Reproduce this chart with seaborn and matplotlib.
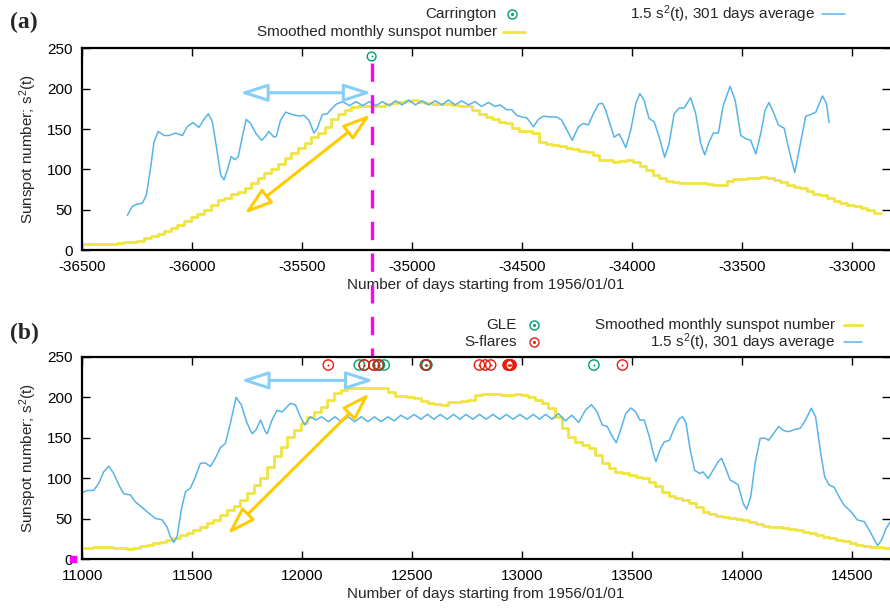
import numpy as np
import pandas as pd
import matplotlib
matplotlib.use('Agg')
import matplotlib.pyplot as plt
import seaborn as sns
from matplotlib.lines import Line2D

# ── DATOS ────────────────────────────────────────────────────────────────────
# (a) Ciclo 10: media de 301 días de 1.5 s^2(t)
s2_a_dia = [-36295, -36273, -36250, -36227, -36209, -36189, -36174, -36155, -36129, -36106,
            -36076, -36045, -36023, -35997, -35970, -35947, -35927, -35909, -35886, -35871,
            -35856, -35841, -35823, -35806, -35791, -35773, -35755, -35735, -35712, -35686,
            -35670, -35652, -35629, -35618, -35599, -35576, -35546, -35515, -35493, -35470,
            -35447, -35432, -35409, -35386, -35364,
            -35345, -35316, -35286, -35256, -35226, -35196, -35166, -35136, -35106, -35076,
            -35046, -35016, -34986, -34956, -34926, -34896, -34866, -34836, -34806, -34776,
            -34745, -34715, -34685, -34654, -34624, -34601, -34571, -34548,
            -34526, -34503, -34480, -34450, -34427, -34404, -34374, -34344, -34321, -34298,
            -34273, -34245, -34223, -34200, -34177, -34154, -34136, -34121, -34098, -34083,
            -34060, -34045, -34030, -34007, -33984, -33966, -33947, -33924, -33901, -33878,
            -33853, -33833, -33810, -33788, -33765, -33735, -33712, -33689, -33671, -33651,
            -33632, -33609, -33588, -33556, -33533, -33507, -33485, -33462, -33439, -33416,
            -33397, -33379, -33356, -33336, -33310, -33288, -33262, -33242, -33212, -33189,
            -33166, -33136, -33118, -33106]
s2_a_val = [43, 54, 57, 58, 68, 103, 134, 147, 142, 142,
            145, 142, 153, 158, 152, 162, 169, 159, 120, 93,
            87, 99, 116, 112, 116, 140, 162, 157, 145, 136,
            140, 147, 140, 141, 161, 171, 168, 166, 167, 161,
            145, 151, 168, 169, 176,
            181, 184, 179, 184, 179, 184, 179, 184, 179, 185,
            180, 186, 180, 185, 180, 185, 180, 186, 180, 185,
            180, 184, 178, 183, 178, 180, 174, 174,
            167, 165, 164, 153, 162, 166, 165, 165, 161, 149,
            136, 153, 157, 155, 169, 181, 182, 173, 153, 140,
            144, 136, 127, 149, 182, 194, 186, 163, 159, 140,
            115, 132, 169, 176, 176, 189, 169, 132, 118, 134,
            145, 145, 178, 203, 186, 142, 138, 136, 119, 145,
            173, 183, 169, 155, 151, 124, 96, 124, 166, 168,
            171, 191, 182, 158]

# (a) Número de manchas suavizado mensual, desde 1856-01
ssn_a = [7, 7, 7, 7, 7, 8, 8.5, 9.5, 10, 11, 14.5, 17, 20, 23, 27, 31, 36, 41, 45, 50,
         56, 62, 65, 69, 72, 77, 83, 89, 96, 101, 107, 114, 120, 127, 133, 140, 145, 153, 162, 169,
         174, 177, 178, 178, 179, 179, 181, 182, 184, 185, 186, 184, 182, 181, 180.5, 180.5, 180, 179, 178, 173,
         169, 165, 162, 159, 157, 151, 147, 147, 145, 134, 131, 130, 129, 127, 125, 123, 121, 118, 112, 111.5,
         109, 110, 111, 109, 104, 99, 93, 89, 85.5, 84, 83, 83.5, 83, 82.6, 82, 81, 81, 85, 87.5, 88,
         89, 89, 90, 89, 87, 84, 81, 78.5, 76.5, 73, 69, 68, 65, 61, 58, 56, 54, 52, 49, 46, 45.5]

# (b) Ciclo 22: media de 301 días de 1.5 s^2(t)
s2_b_dia = [10999, 11022, 11052, 11075, 11097, 11120, 11143, 11166, 11188, 11219,
            11241, 11272, 11302, 11332, 11363, 11385, 11400, 11416, 11431, 11450,
            11469, 11491, 11514, 11537, 11560, 11582, 11605, 11628, 11650, 11673,
            11699, 11723, 11749, 11772, 11790, 11810, 11832, 11840, 11862, 11885,
            11908, 11946, 11969, 11991, 12011, 12037,
            12060, 12088, 12118, 12148, 12178, 12208, 12238, 12268, 12298, 12328,
            12358, 12388, 12418, 12448, 12478, 12508, 12539, 12569, 12598, 12627,
            12658, 12688, 12716, 12744, 12775, 12805, 12836, 12866, 12897, 12928,
            12958, 12989, 13020, 13050, 13078, 13106, 13135, 13164, 13195, 13225,
            13256, 13286, 13314, 13340, 13363, 13386, 13409, 13427, 13447, 13470,
            13493, 13515, 13534, 13554, 13577, 13595, 13607, 13625, 13645, 13668,
            13691, 13714, 13729, 13744, 13763, 13783, 13806, 13821, 13844, 13867,
            13890, 13905, 13921, 13944, 13966, 13981, 14004, 14019, 14038, 14058,
            14081, 14104, 14119, 14142, 14165, 14188, 14211, 14234, 14264, 14287,
            14313, 14333, 14356, 14374, 14394, 14417, 14440, 14462, 14493, 14523,
            14554, 14577, 14600, 14615, 14633, 14653, 14676, 14691]
s2_b_val = [82, 85, 85, 94, 108, 115, 106, 92, 81, 79.5,
            71, 64, 57, 50.6, 48.6, 40, 28, 21, 28, 61,
            83.6, 87.7, 102, 118.6, 119, 114.5, 125, 138, 143, 168,
            200, 190.6, 168, 155, 160, 172, 157.7, 155, 172, 184,
            182, 192.7, 190.6, 176, 166, 176,
            172, 176, 170, 176, 170, 176, 170, 176, 170, 176,
            170, 176, 171, 178, 173, 179, 173, 179, 173, 179,
            173, 179, 173, 179, 173, 179, 173, 179, 173, 179,
            173, 179, 173, 179, 173, 179, 173, 180, 171, 178,
            169, 184, 191, 182, 166, 164, 151.5, 144, 160, 180,
            187, 182, 172, 172, 151.5, 131, 120.6, 135, 145, 147,
            162, 174, 176, 168, 135, 110, 106, 108, 100, 110,
            120.6, 124.7, 114.5, 98, 94.7, 91.8, 69, 61.8, 77, 118.6,
            149.5, 149.5, 147, 155.6, 164, 159, 157.7, 160, 162, 172,
            186.5, 176, 131, 102, 91.8, 89, 77, 67, 59, 48.6,
            46.5, 36, 24, 17, 24, 38, 48, 48.6]

# (b) Número de manchas suavizado mensual, desde 1986-02
ssn_b = [14.4, 14.4, 14.8, 15.6, 14.8, 14.4, 13.6, 13.2, 14.4, 16.9,
         17.7, 19.8, 21.8, 23.9, 26.8, 30, 33, 36, 40, 45,
         48.6, 55, 61, 66, 73, 81.5, 92, 100, 114, 127,
         139, 151.5, 160, 168, 176, 182, 188.6, 197, 205, 209,
         212, 212, 211, 212, 212, 212, 207, 202, 202, 200,
         199, 195.6, 193.5, 191.4, 190.6, 194.7, 194.7, 195.6, 196.8, 203,
         204, 204, 203.8, 203, 203, 203.8, 203, 201, 196.8, 192.7,
         186.5, 176, 162, 151.5, 145, 141, 137, 129, 118.6, 113,
         108, 106, 104, 102, 100, 96, 90, 83.6, 78, 76,
         73, 69, 64, 59, 56, 53.5, 52, 50.6, 49.8, 48.6,
         46.5, 43.6, 41, 40, 39.5, 38.7, 37.5, 36, 34, 32,
         30, 28, 26, 24, 22, 19.8, 17.7, 16.5, 15.6, 14.8,
         14.4, 14.4]

# Eventos (fechas)
carrington = ['1859-09-01']
gle_fechas = ['1989-07-25', '1989-08-16', '1989-09-29', '1989-10-19', '1989-10-22',
              '1989-10-24', '1989-11-15', '1990-05-21', '1990-05-24', '1990-05-26',
              '1990-05-28', '1992-06-25']
sflare_fechas = ['1989-03-06', '1989-08-16', '1989-09-29', '1989-10-19', '1990-05-24',
                 '1991-01-22', '1991-02-17', '1991-03-14', '1991-06-01', '1991-06-04',
                 '1991-06-06', '1991-06-09', '1991-06-11', '1991-06-15', '1992-11-02']

# Flechas (día inicio, valor inicio, día fin, valor fin)
flecha_azul_a = (-35784, 195, -35185, 195)
flecha_oro_a = (-35763, 45, -35190, 168)
flecha_azul_b = (11720, 221, 12325, 221)
flecha_oro_b = (11661, 31, 12305, 205)

ORIGEN = pd.Timestamp('1956-01-01')
def a_dias(fechas):
    return (pd.to_datetime(fechas) - ORIGEN).days.values

dias_ssn_a = (pd.date_range('1856-01-01', periods=len(ssn_a), freq='MS') - ORIGEN).days.values
dias_ssn_b = (pd.date_range('1986-02-01', periods=len(ssn_b), freq='MS') - ORIGEN).days.values
dia_carr = a_dias(carrington)
dia_gle = a_dias(gle_fechas)
dia_sfl = a_dias(sflare_fechas)

# ── ESTILO ───────────────────────────────────────────────────────────────────
sns.set_theme(style='ticks')
plt.rcParams['font.family'] = ['Liberation Sans', 'DejaVu Sans']
plt.rcParams['mathtext.fontset'] = 'custom'
plt.rcParams['mathtext.rm'] = 'Liberation Sans'
plt.rcParams['mathtext.it'] = 'Liberation Sans:italic'
plt.rcParams['axes.unicode_minus'] = False
FS = 11

AZUL = '#56b4e9'; AMARILLO = '#f0e442'; VERDE = '#009e73'; ROJO = '#e51e10'
MAGENTA = '#ff00ff'; CELESTE = '#87cefa'; ORO = '#ffcc00'

W, H = 890, 610
fig = plt.figure(figsize=(W / 100, H / 100), dpi=100)

def caja(px0, py_top, px1, py_bot):
    return [px0 / W, 1 - py_bot / H, (px1 - px0) / W, (py_bot - py_top) / H]

ax_a = fig.add_axes(caja(82.3, 48.4, 890, 250))
ax_b = fig.add_axes(caja(82.3, 356.9, 890, 559.3))

def estilo(ax, xlim, xticks):
    ax.set_xlim(*xlim)
    ax.set_ylim(0, 250)
    ax.set_xticks(xticks)
    ax.set_yticks(range(0, 251, 50))
    ax.tick_params(direction='in', length=6, width=1, top=True, right=True,
                   labelsize=FS, pad=7, colors='black')
    for lado in ['left', 'bottom', 'top']:
        ax.spines[lado].set_linewidth(1.6)
        ax.spines[lado].set_color('black')
    ax.spines['right'].set_visible(False)
    ax.set_xlabel('Number of days starting from 1956/01/01', fontsize=FS, labelpad=3)
    ax.set_ylabel(r'Sunspot number; s$^{2}$(t)', fontsize=FS, labelpad=6)
    ax.grid(False)

def flecha(ax, f, color):
    ax.annotate('', xy=(f[0], f[1]), xytext=(f[2], f[3]),
                arrowprops=dict(arrowstyle='<|-|>,head_length=1.4,head_width=0.45',
                                fc='white', ec=color, lw=2.2, shrinkA=0, shrinkB=0))

def circulos(ax, x, y, color):
    sns.scatterplot(x=x, y=y, ax=ax, marker='o', s=55, facecolor='none',
                    edgecolor=color, linewidth=1.0, legend=False, zorder=6, clip_on=False)
    sns.scatterplot(x=x, y=y, ax=ax, marker='o', s=2, color=color,
                    linewidth=0, legend=False, zorder=6, clip_on=False)

# ── PANEL (a) ────────────────────────────────────────────────────────────────
estilo(ax_a, (-36500, -32829), range(-36500, -32999, 500))
sns.lineplot(x=dias_ssn_a, y=ssn_a, ax=ax_a, color=AMARILLO, lw=2.0,
             drawstyle='steps-post', estimator=None, sort=False, legend=False)
sns.lineplot(x=s2_a_dia, y=s2_a_val, ax=ax_a, color=AZUL, lw=1.1,
             estimator=None, sort=False, legend=False)
flecha(ax_a, flecha_azul_a, CELESTE)
flecha(ax_a, flecha_oro_a, ORO)
ax_a.plot([dia_carr[0]] * 2, [232, -146], color=MAGENTA, lw=2.4,
          dashes=(5.5, 4.0), clip_on=False, zorder=5)
sns.scatterplot(x=dia_carr, y=[240], ax=ax_a, marker='o', s=40, facecolor='none',
                edgecolor=VERDE, linewidth=1.0, legend=False, zorder=6)
sns.scatterplot(x=dia_carr, y=[240], ax=ax_a, marker='o', s=2, color=VERDE,
                linewidth=0, legend=False, zorder=6)

# ── PANEL (b) ────────────────────────────────────────────────────────────────
estilo(ax_b, (11000, 14671), range(11000, 14501, 500))
sns.lineplot(x=dias_ssn_b, y=ssn_b, ax=ax_b, color=AMARILLO, lw=2.0,
             drawstyle='steps-post', estimator=None, sort=False, legend=False)
sns.lineplot(x=s2_b_dia, y=s2_b_val, ax=ax_b, color=AZUL, lw=1.1,
             estimator=None, sort=False, legend=False)
flecha(ax_b, flecha_azul_b, CELESTE)
flecha(ax_b, flecha_oro_b, ORO)
circulos(ax_b, dia_gle, [240] * len(dia_gle), VERDE)
circulos(ax_b, dia_sfl, [240] * len(dia_sfl), ROJO)
ax_b.plot([10958], [0], marker='s', ms=4, color=MAGENTA, clip_on=False, zorder=7)

# ── LEYENDAS Y ETIQUETAS ─────────────────────────────────────────────────────
def leyenda(texto, px_txt, py, px_m, tipo, color):
    fig.text(px_txt / W, 1 - py / H, texto, ha='right', va='center', fontsize=FS)
    if tipo == 'linea':
        fig.add_artist(Line2D([px_m[0] / W, px_m[1] / W], [1 - py / H] * 2,
                              color=color, lw=1.1 if color == AZUL else 2.0))
    else:
        fig.add_artist(Line2D([px_m / W], [1 - py / H], marker='o', ms=6.5, mfc='none',
                              mec=color, mew=1.0, ls='none'))
        fig.add_artist(Line2D([px_m / W], [1 - py / H], marker='o', ms=1.2,
                              color=color, ls='none'))

S2_TXT = r'1.5 s$^{2}$(t), 301 days average'
leyenda('Carrington', 497, 14, 512, 'punto', VERDE)
leyenda('Smoothed monthly sunspot number', 497, 32, (503, 525), 'linea', AMARILLO)
leyenda(S2_TXT, 815, 14, (822, 845), 'linea', AZUL)

leyenda('GLE', 517, 325, 534, 'punto', VERDE)
leyenda('S-flares', 517, 342, 534, 'punto', ROJO)
leyenda('Smoothed monthly sunspot number', 835, 325, (844, 862), 'linea', AMARILLO)
leyenda(S2_TXT, 835, 342, (844, 862), 'linea', AZUL)

fig.text(24 / W, 1 - 22 / H, '(a)', ha='center', va='center', fontsize=17,
         fontweight='bold', family='Liberation Serif')
fig.text(24 / W, 1 - 333 / H, '(b)', ha='center', va='center', fontsize=17,
         fontweight='bold', family='Liberation Serif')

fig.savefig('out.png', dpi=100)
plt.close(fig)
